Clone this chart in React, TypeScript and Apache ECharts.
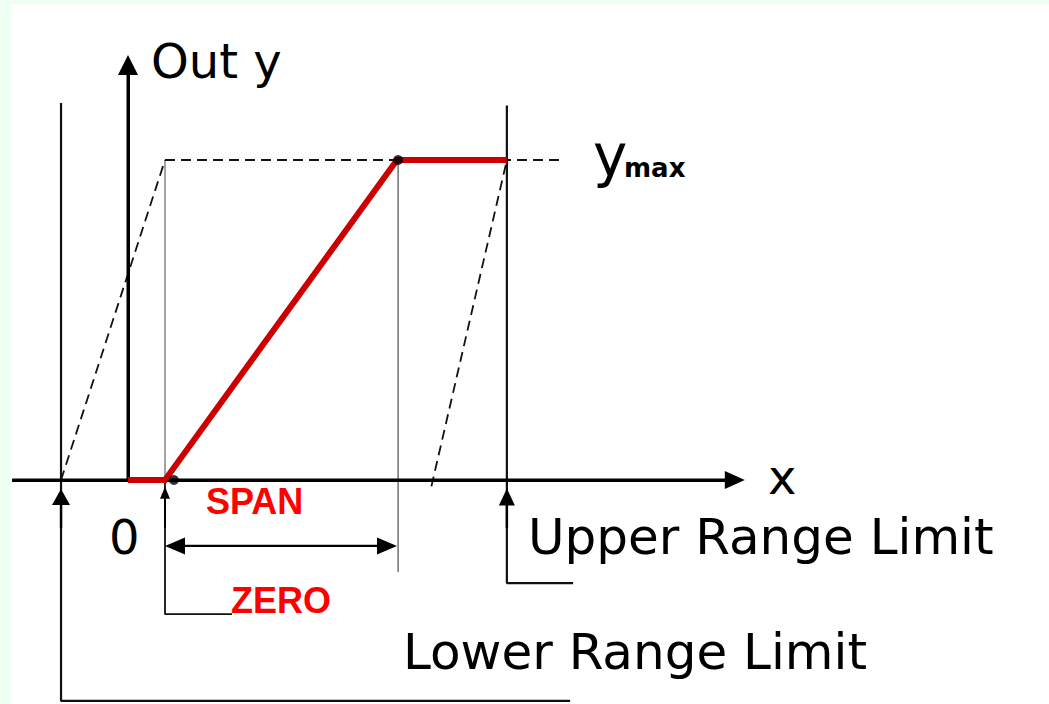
import React, { useEffect, useRef } from "react";
import * as echarts from "echarts";

// ---- data (abstract x units, y in units of ymax) ----
const outputCurve = [[0, 0], [1, 0], [7.27, 1], [10.24, 1]];
const cornerPoints = [[1.24, 0], [7.3, 1]];
const yMaxGuide = [[1, 1], [11.73, 1]];
const lowerShiftedSlope = [[-1.81, 0], [1, 1]];
const upperShiftedSlope = [[8.2, -0.02], [10.24, 1]];
const lowerLimitLeader = [[-1.81, 1.178], [-1.81, -0.69], [11.95, -0.69]];
const upperLimitLeader = [[10.24, 1.17], [10.24, -0.322], [12.03, -0.322]];
const zeroGuide = [[1, 1], [1, 0]];
const zeroLeader = [[1, 0], [1, -0.419], [2.81, -0.419]];
const spanEndGuide = [[7.3, 1], [7.3, -0.2875]];
const xAxisLine = [[-3.13, 0], [16.4, 0]];
const yAxisLine = [[0, 0], [0, 1.297]];
const spanArrow = [[1.27, -0.206], [7.0, -0.206]];
const lowerPointer = [[-1.81, -0.15], [-1.81, -0.053]];
const zeroPointer = [[1, -0.15], [1, -0.04]];
const upperPointer = [[10.24, -0.15], [10.24, -0.053]];

const labelOutY = "Out y";
const labelX = "x";
const labelZero0 = "0";
const labelSpan = "SPAN";
const labelZero = "ZERO";
const labelUpper = "Upper Range Limit";
const labelLower = "Lower Range Limit";
const labelYmaxY = "y";
const labelYmaxSub = "max";

const FONT = "DejaVu Sans";

function plain(data: number[][], color: string, width: number, type: any = "solid", z = 3) {
  return {
    type: "line",
    data,
    symbol: "none",
    silent: true,
    z,
    lineStyle: { color, width, type, cap: "butt" },
  };
}

function arrow(
  data: number[][],
  color: string,
  width: number,
  symbols: string[],
  size: number[],
  z = 4
) {
  return {
    type: "line",
    data,
    symbol: "none",
    silent: true,
    z,
    lineStyle: { color, width },
    markLine: {
      silent: true,
      symbol: symbols,
      symbolSize: size,
      label: { show: false },
      emphasis: { disabled: true },
      lineStyle: { color, width, type: "solid" },
      data: [[{ coord: data[0] }, { coord: data[1] }]],
    },
  };
}

function txt(text: string, x: number, y: number, size: number, color = "#000", weight = "normal", family = FONT) {
  return {
    type: "text",
    x,
    y,
    z: 100,
    silent: true,
    style: {
      text,
      fill: color,
      font: `${weight} ${size}px "${family}"`,
      align: "left",
      verticalAlign: "middle",
    },
  };
}

export default function App() {
  const ref = useRef<HTMLDivElement>(null);
  useEffect(() => {
    if (!ref.current) return;
    const chart = echarts.init(ref.current, undefined, { renderer: "svg" });
    chart.setOption({
      animation: false,
      backgroundColor: "#effff3",
      grid: { left: 2.2, right: 33, top: 0, bottom: 0, containLabel: false },
      xAxis: { type: "value", min: -3.4, max: 24, show: false },
      yAxis: { type: "value", min: -0.7, max: 1.5, show: false },
      graphic: {
        elements: [
          { type: "rect", z: -10, silent: true, shape: { x: 11, y: 4, width: 1038, height: 700 }, style: { fill: "#ffffff" } },
          txt(labelOutY, 151, 61, 48),
          txt(labelX, 768, 477, 48),
          txt(labelZero0, 109, 537, 48),
          txt(labelSpan, 206, 501, 36, "#ff0000", "bold", "Liberation Sans"),
          txt(labelZero, 231, 600, 36, "#ff0000", "bold", "Liberation Sans"),
          txt(labelUpper, 528, 537, 50),
          txt(labelLower, 403, 652, 50),
          txt(labelYmaxY, 593, 156, 58),
          txt(labelYmaxSub, 624, 168, 26, "#000", "bold"),
        ],
      },
      series: [
        plain(zeroGuide, "#666666", 1.2, "solid", 2),
        plain(spanEndGuide, "#666666", 1.4, "solid", 2),
        plain(yMaxGuide, "#111111", 1.8, [10, 6], 2),
        plain(lowerShiftedSlope, "#111111", 1.8, [10, 6], 2),
        plain(upperShiftedSlope, "#111111", 1.8, [10, 6], 2),
        plain(lowerLimitLeader, "#111111", 2.2, "solid", 3),
        plain(upperLimitLeader, "#111111", 2.2, "solid", 3),
        plain(zeroLeader, "#111111", 1.8, "solid", 3),
        arrow(xAxisLine, "#000000", 3, ["none", "triangle"], [18, 20]),
        arrow(yAxisLine, "#000000", 3, ["none", "triangle"], [20, 20]),
        arrow(spanArrow, "#000000", 2.2, ["triangle", "triangle"], [17, 20]),
        arrow(lowerPointer, "#000000", 2.2, ["none", "triangle"], [18, 16]),
        arrow(zeroPointer, "#000000", 1.8, ["none", "triangle"], [10, 12]),
        arrow(upperPointer, "#000000", 2.2, ["none", "triangle"], [16, 17]),
        {
          type: "line",
          data: outputCurve,
          symbol: "none",
          silent: true,
          z: 6,
          lineStyle: { color: "#cc0000", width: 6, join: "miter" },
        },
        {
          type: "scatter",
          data: cornerPoints,
          symbol: "circle",
          symbolSize: 10,
          silent: true,
          z: 7,
          itemStyle: { color: "#000000" },
        },
      ],
    });
    return () => chart.dispose();
  }, []);
  return (
    <div
      ref={ref}
      style={{ position: "fixed", left: 0, top: 0, width: 1049, height: 704 }}
    />
  );
}
